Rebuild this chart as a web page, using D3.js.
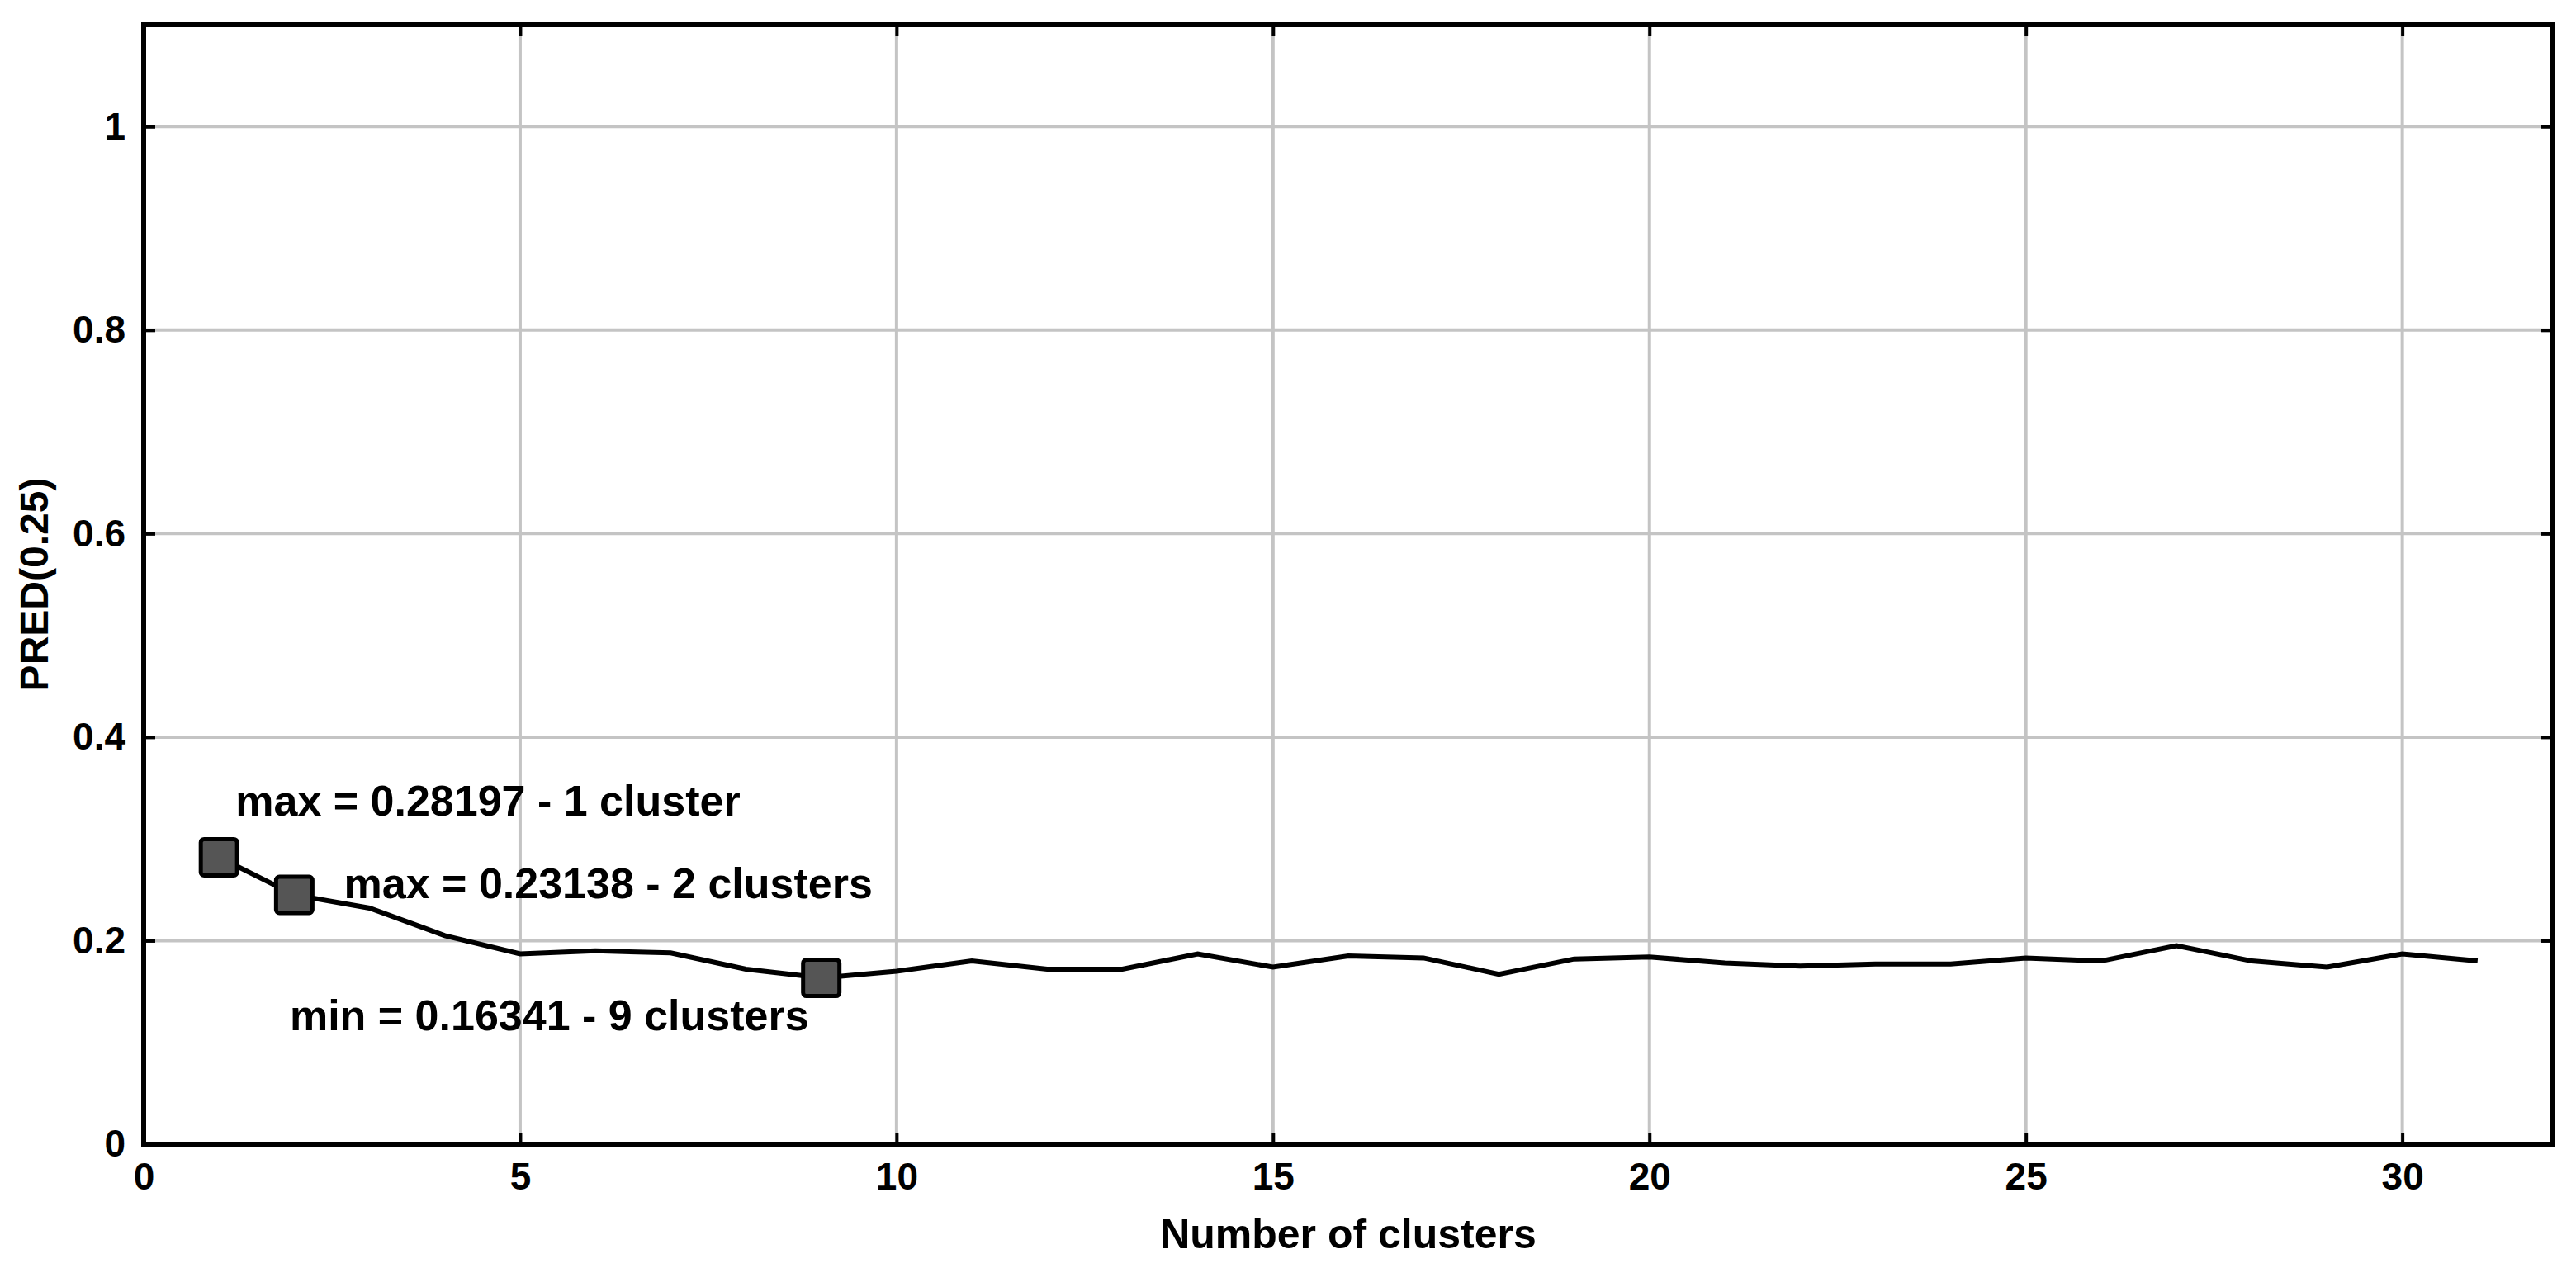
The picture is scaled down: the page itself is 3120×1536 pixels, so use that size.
<!DOCTYPE html>
<html><head><meta charset="utf-8">
<script src="https://cdn.jsdelivr.net/npm/d3@7"></script>
<style>body{margin:0;background:#fff}text{font-family:"Liberation Sans",Arial,sans-serif;font-weight:bold}</style>
</head><body><div id="chart"></div>
<script>
const clusters = d3.range(1, 32);
const pred = [0.28197,0.245,0.232,0.205,0.187,0.19,0.188,0.172,0.16341,0.17,0.18,0.172,0.172,0.187,0.174,0.185,0.183,0.167,0.182,0.184,0.178,0.175,0.177,0.177,0.183,0.18,0.195,0.18,0.174,0.187,0.18];
const markedIdx = [0, 1, 8];
const noteText = ["max = 0.28197 - 1 cluster","max = 0.23138 - 2 clusters","min = 0.16341 - 9 clusters"];
const noteX = [1.22, 2.66, 1.94];
const noteY = [0.323, 0.242, 0.112];
const xTicks = [0,5,10,15,20,25,30];
const yTicks = [0,0.2,0.4,0.6,0.8,1];

const W = 3120, H = 1536;
const m = {top: 30, right: 14, bottom: 150, left: 174};
const w = W - m.left - m.right - 14, h = H - m.top - m.bottom;

const svg = d3.select("#chart").append("svg").attr("width", W).attr("height", H);
const g = svg.append("g").attr("transform", `translate(${m.left},${m.top})`);

const x = d3.scaleLinear().domain([0, 32]).range([0, w]);
const y = d3.scaleLinear().domain([0, 1.1]).range([h, 0]);

// grid
g.selectAll(".gx").data(xTicks).join("line")
  .attr("x1", d => x(d)).attr("x2", d => x(d)).attr("y1", 0).attr("y2", h)
  .attr("stroke", "#c4c4c4").attr("stroke-width", 4);
g.selectAll(".gy").data(yTicks).join("line")
  .attr("y1", d => y(d)).attr("y2", d => y(d)).attr("x1", 0).attr("x2", w)
  .attr("stroke", "#c4c4c4").attr("stroke-width", 4);

// axes
const xa = g.append("g").attr("transform", `translate(0,${h})`)
  .call(d3.axisBottom(x).tickValues(xTicks).tickSize(-14).tickPadding(22));
const ya = g.append("g")
  .call(d3.axisLeft(y).tickValues(yTicks).tickSize(-14).tickPadding(22).tickFormat(d3.format("~g")));
[xa, ya].forEach(a => {
  a.select(".domain").remove();
  a.selectAll("line").attr("stroke", "#000").attr("stroke-width", 4);
  a.selectAll("text").attr("font-size", 46).attr("fill", "#000");
});
// top/right ticks
g.append("g").call(d3.axisTop(x).tickValues(xTicks).tickSize(-14).tickFormat(""))
  .call(a => { a.select(".domain").remove(); a.selectAll("line").attr("stroke", "#000").attr("stroke-width", 4); });
g.append("g").attr("transform", `translate(${w},0)`)
  .call(d3.axisRight(y).tickValues(yTicks).tickSize(-14).tickFormat(""))
  .call(a => { a.select(".domain").remove(); a.selectAll("line").attr("stroke", "#000").attr("stroke-width", 4); });

g.append("rect").attr("width", w).attr("height", h)
  .attr("fill", "none").attr("stroke", "#000").attr("stroke-width", 6);

// line
g.append("path").datum(pred)
  .attr("fill", "none").attr("stroke", "#000").attr("stroke-width", 6)
  .attr("d", d3.line().x((d, i) => x(clusters[i])).y(d => y(d)));

// markers
const s = 44;
g.selectAll(".mk").data(markedIdx).join("rect")
  .attr("x", i => x(clusters[i]) - s / 2).attr("y", i => y(pred[i]) - s / 2)
  .attr("width", s).attr("height", s).attr("rx", 4)
  .attr("fill", "#555").attr("stroke", "#000").attr("stroke-width", 5);

// notes
g.selectAll(".note").data(noteText).join("text")
  .attr("x", (d, i) => x(noteX[i])).attr("y", (d, i) => y(noteY[i]))
  .attr("font-size", 52).attr("fill", "#000").text(d => d);

// labels
svg.append("text").attr("x", m.left + w / 2).attr("y", H - 24)
  .attr("text-anchor", "middle").attr("font-size", 50).text("Number of clusters");
svg.append("text").attr("transform", `translate(58,${m.top + h / 2}) rotate(-90)`)
  .attr("text-anchor", "middle").attr("font-size", 48).text("PRED(0.25)");
</script></body></html>
